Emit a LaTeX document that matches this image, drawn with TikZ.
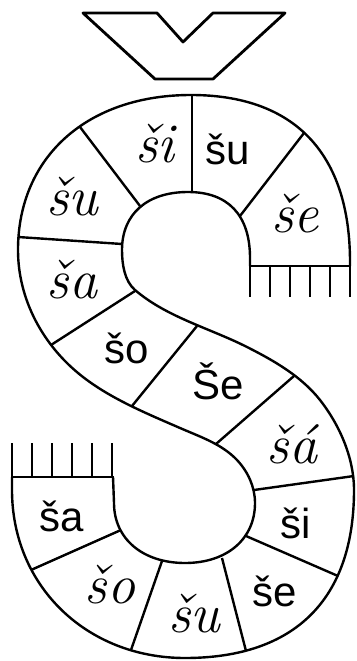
\documentclass[tikz,border=0pt]{standalone}
\usepackage{fontspec}
\newfontfamily\printfont{Liberation Sans}
\begin{document}
\begin{tikzpicture}[x=1pt,y=-1pt,line join=round,
  outl/.style={line width=2.4pt},
  prt/.style={anchor=base,inner sep=0pt,font=\printfont\fontsize{42}{42}\selectfont},
  cur/.style={anchor=base,inner sep=0pt,font=\itshape\fontsize{56}{56}\selectfont}]
\useasboundingbox (0,0) rectangle (356,661);
% hacek
\draw[line width=2.8pt] (83,13) -- (157,13) -- (183,42) -- (213,13) -- (285,13)
  -- (213,79) -- (155,79) -- cycle;
% outer top / inner bottom
\draw[outl] (350,266) -- (350,262) .. controls (350,153.4) and (294.4,95) .. (191,95)
  .. controls (87.2,95) and (18,157) .. (18,250)
  .. controls (18,300) and (43.5,346.5) .. (83,377)
  .. controls (111.4,399) and (146.9,413.6) .. (180,428)
  .. controls (200.2,436.8) and (221.8,444) .. (237,460)
  .. controls (248,471.7) and (255,487) .. (255,503)
  .. controls (255,539) and (227,563) .. (185,563)
  .. controls (143,563) and (114,539) .. (114,503)
  -- (113,477);
% inner top / outer bottom
\draw[outl] (250,266) -- (250,258) .. controls (250,215) and (228,192) .. (188,192)
  .. controls (147,192) and (122,214) .. (122,250)
  .. controls (122,264) and (124.4,280.9) .. (135,290)
  .. controls (166.9,317.3) and (209.6,328.1) .. (247,347)
  .. controls (273.7,360.5) and (301.4,376.3) .. (320,400)
  .. controls (339.8,425.3) and (354,458) .. (354,490)
  .. controls (354,599.2) and (294.9,658) .. (185,658)
  .. controls (86.4,658) and (12,585.8) .. (12,490)
  -- (12,477);
% fringes
\draw[outl] (249,266) -- (351,266);
\foreach \x in {250,270,...,350} \draw[outl] (\x,266) -- (\x,297);
\draw[outl] (11,477) -- (114,477);
\foreach \x in {12,32,...,112} \draw[outl] (\x,477) -- (\x,443);
% dividers
\draw[outl] (192,95) -- (192,192);
\draw[outl] (304,133) -- (240,216);
\draw[outl] (80,127) -- (140,206);
\draw[outl] (18,237) -- (122,244);
\draw[outl] (51,345) -- (135,291);
\draw[outl] (132,406) -- (197,326);
\draw[outl] (216,444) -- (294,376);
\draw[outl] (254,490) -- (354,476);
\draw[outl] (246,536) -- (338,576);
\draw[outl] (222,558) -- (246,651);
\draw[outl] (162,561) -- (131,650);
\draw[outl] (121,530) -- (31,570);
% labels
\node[cur] (l1) at (155,162) {ši};
\node[prt] (l2) at (228,164) {šu};
\node[cur] (l3) at (72,215) {šu};
\node[cur] (l4) at (295,232) {še};
\node[cur] (l5) at (72,298) {ša};
\node[prt] (l6) at (127,363) {šo};
\node[prt] (l7) at (218,399) {Še};
\node[cur] (l8) at (292,463) {šá};
\node[prt] (l9) at (62,531) {ša};
\node[prt] (l10) at (296,538) {ši};
\node[prt] (l11) at (275,606) {še};
\node[cur] (l12) at (110,603) {šo};
\node[cur] (l13) at (194,632) {šu};
\end{tikzpicture}
\end{document}
